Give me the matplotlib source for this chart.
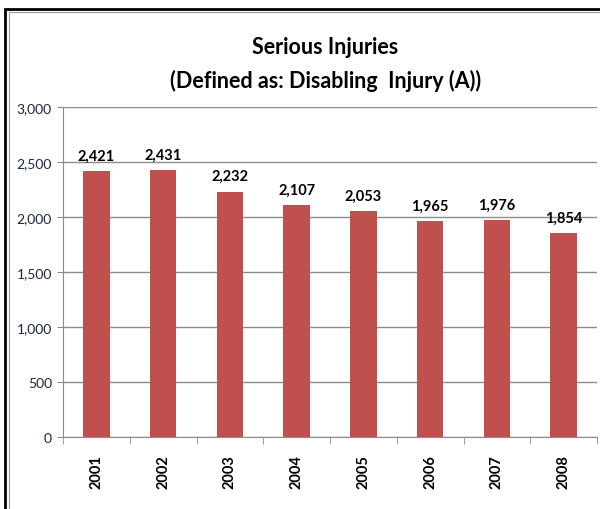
import numpy as np
import matplotlib.pyplot as plt
from matplotlib.patches import Rectangle

years = ["2001", "2002", "2003", "2004", "2005", "2006", "2007", "2008"]
injuries = [2421, 2431, 2232, 2107, 2053, 1965, 1976, 1854]
yticks = [0, 500, 1000, 1500, 2000, 2500, 3000]

plt.rcParams["font.family"] = ["Lato", "DejaVu Sans"]

fig = plt.figure(figsize=(6.0, 5.1), dpi=100)
ax = fig.add_axes([0.105, 0.141, 0.890, 0.647])

x = np.arange(len(years))
ax.bar(x, injuries, width=0.4, color="#C0504D", zorder=3)
for xi, v in zip(x, injuries):
    ax.annotate(f"{v:,}", (xi, v), xytext=(0, 6), textcoords="offset points",
                ha="center", va="bottom", fontsize=10.5, fontweight="bold")

ax.set_xlim(-0.5, len(years) - 0.5)
ax.set_ylim(0, 3000)
ax.set_yticks(yticks)
ax.set_yticklabels([f"{t:,}" for t in yticks], fontsize=10, color="#1a2540")
ax.grid(axis="y", color="#8c8c8c", linewidth=1, zorder=0)
ax.set_xticks(x)
ax.set_xticklabels(years, rotation=90, fontsize=10.5, fontweight="bold")
ax.set_xticks(np.arange(len(years) + 1) - 0.5, minor=True)
ax.tick_params(axis="x", which="major", length=0, pad=12)
ax.tick_params(axis="x", which="minor", length=5, color="#8c8c8c")
ax.tick_params(axis="y", length=4, color="#8c8c8c", pad=4)
for s in ["top", "right"]:
    ax.spines[s].set_visible(False)
for s in ["left", "bottom"]:
    ax.spines[s].set_color("#8c8c8c")

fig.text(0.542, 0.906, "Serious Injuries", ha="center", va="center",
         fontsize=15.5, fontweight="bold")
fig.text(0.542, 0.842, "(Defined as: Disabling  Injury (A))", ha="center",
         va="center", fontsize=15.5, fontweight="bold")

# chart frame
fig.add_artist(Rectangle((5 / 600, -0.1), 1.2, 1 - 10 / 510 + 0.1,
                         transform=fig.transFigure, fill=False,
                         edgecolor="black", linewidth=2))
fig.add_artist(Rectangle((8.5 / 600, -0.1), 1.2, 1 - 13 / 510 + 0.1,
                         transform=fig.transFigure, fill=False,
                         edgecolor="#9a9a9a", linewidth=0.8))

fig.savefig("out.png", dpi=100)
